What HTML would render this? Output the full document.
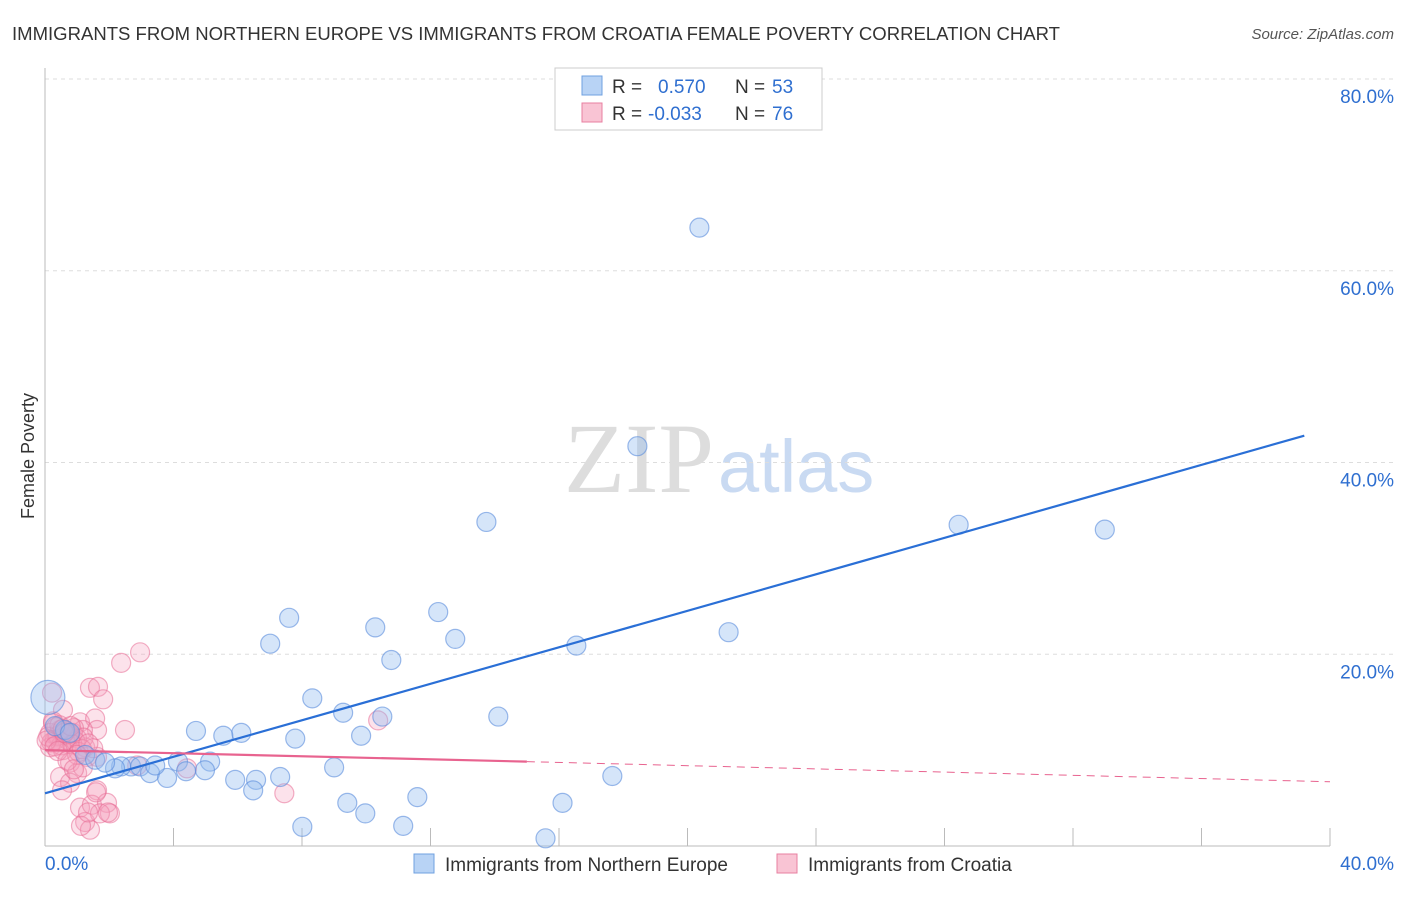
<!DOCTYPE html>
<html><head><meta charset="utf-8"><style>
body{margin:0;background:#fff;font-family:"Liberation Sans",sans-serif}
</style></head><body>
<svg id="c" width="1406" height="892" xmlns="http://www.w3.org/2000/svg" font-family="Liberation Sans, sans-serif">
<text x="12" y="40" font-size="18" fill="#333" textLength="1048" lengthAdjust="spacingAndGlyphs">IMMIGRANTS FROM NORTHERN EUROPE VS IMMIGRANTS FROM CROATIA FEMALE POVERTY CORRELATION CHART</text>
<text x="1394" y="39" font-size="15" fill="#555" font-style="italic" text-anchor="end">Source: ZipAtlas.com</text>
<text x="34" y="456" font-size="18" fill="#333" text-anchor="middle" transform="rotate(-90 34 456)">Female Poverty</text>
<text x="714" y="492" font-size="100" fill="#ddd" text-anchor="end" font-family="Liberation Serif, serif">ZIP</text>
<text x="718" y="492" font-size="74" fill="#c9daf2">atlas</text>
<g id="grid"></g><g id="marks"></g>
<g>
<rect x="555" y="68" width="267" height="62" fill="#fff" stroke="#ccc"/>
<rect x="582" y="76" width="20" height="19" fill="#b8d3f5" stroke="#6fa0e0"/>
<rect x="582" y="103" width="20" height="19" fill="#f9c4d4" stroke="#e87fa0"/>
<text x="612" y="93" font-size="19" fill="#333">R =</text>
<text x="658" y="93" font-size="19" fill="#2f6fd0">0.570</text>
<text x="735" y="93" font-size="19" fill="#333">N =</text>
<text x="772" y="93" font-size="19" fill="#2f6fd0">53</text>
<text x="612" y="120" font-size="19" fill="#333">R =</text>
<text x="648" y="120" font-size="19" fill="#2f6fd0">-0.033</text>
<text x="735" y="120" font-size="19" fill="#333">N =</text>
<text x="772" y="120" font-size="19" fill="#2f6fd0">76</text>
</g>
<g>
<rect x="414" y="854" width="20" height="19" fill="#b8d3f5" stroke="#6fa0e0"/>
<text x="445" y="871" font-size="19" fill="#333">Immigrants from Northern Europe</text>
<rect x="777" y="854" width="20" height="19" fill="#f9c4d4" stroke="#e87fa0"/>
<text x="808" y="871" font-size="19" fill="#333">Immigrants from Croatia</text>
</g>
<text x="45" y="870" font-size="19" fill="#2f6fd0">0.0%</text>
<text x="1394" y="870" font-size="19" fill="#2f6fd0" text-anchor="end">40.0%</text>
</svg>
<script>
const yTicks=[20,40,60,80];
const blueX=[20.37,18.44,13.74,28.44,32.99,7.60,12.24,10.28,7.01,12.77,16.54,21.28,10.78,8.32,9.28,10.50,14.11,4.70,6.11,5.55,7.79,9.84,5.14,4.14,2.68,2.37,2.96,2.18,3.27,3.80,4.39,4.98,5.92,6.57,7.32,6.48,9.00,17.66,9.41,9.97,11.59,8.01,11.15,15.58,16.11,0.09,0.62,0.31,1.25,1.56,1.87,3.43,0.78];
const blueY=[64.5,41.7,33.8,33.5,33.0,23.8,24.4,22.8,21.1,21.6,20.9,22.3,19.4,15.4,13.9,13.5,13.5,12.0,11.8,11.5,11.2,11.5,8.8,8.8,8.3,8.3,8.3,8.1,7.6,7.1,7.8,7.9,6.9,6.9,7.2,5.8,8.2,7.3,4.5,3.4,5.1,2.0,2.1,0.8,4.5,15.5,12.1,12.5,9.5,9.0,8.7,8.4,11.8];
const pinkX=[2.37,2.96,1.40,1.65,1.81,0.22,0.56,0.25,1.09,1.56,1.62,2.49,0.37,0.78,0.16,0.56,1.25,1.31,1.62,0.78,0.47,1.00,1.18,0.78,0.53,1.62,4.42,2.87,1.09,1.46,1.93,2.02,1.25,1.40,1.71,0.87,1.18,0.16,0.47,0.69,10.37,7.45,1.12,1.34,1.96,1.59,0.30,0.40,0.60,0.90,1.00,0.20,0.50,0.70,0.35,0.65,0.95,1.20,1.50,0.10,0.45,0.85,1.05,0.25,0.55,0.75,1.15,1.35,0.05,0.30,0.60,0.80,1.00,0.40,0.70,0.90];
const pinkY=[19.1,20.2,16.5,16.6,15.3,16.0,14.2,12.8,12.9,13.3,12.1,12.1,11.4,11.4,10.3,10.0,10.3,9.3,9.3,8.7,7.2,7.6,8.2,6.6,5.8,5.8,8.1,8.4,4.0,4.3,4.5,3.4,2.5,1.7,3.4,11.8,12.1,11.8,12.1,11.1,13.1,5.5,2.1,3.5,3.5,5.6,11.0,11.5,11.9,12.3,11.2,10.8,10.5,11.6,12.4,12.0,10.9,11.3,10.2,11.4,12.6,10.6,9.8,13.0,12.2,11.7,10.1,10.7,11.0,10.4,11.8,12.5,9.5,9.9,8.9,8.0];
const blueTrend=[[0,5.5],[39.2,42.8]];
const pinkTrend=[[0,10.0],[15,8.8],[40,6.7]];
const X=v=>45+v*32.125, Y=v=>846-v*9.5875;
const NS="http://www.w3.org/2000/svg";
function mk(t,a,p){const e=document.createElementNS(NS,t);for(const k in a)e.setAttribute(k,a[k]);p.appendChild(e);return e;}
const g=document.getElementById('grid'),m=document.getElementById('marks');
yTicks.forEach(t=>{const l=mk('line',{x1:45,x2:1394,y1:Y(t),y2:Y(t),stroke:'#ddd','stroke-dasharray':'4 4'},g);


const tx=mk('text',{x:1394,y:Y(t)+24,'font-size':19,fill:'#2f6fd0','text-anchor':'end'},g);tx.textContent=t.toFixed(1)+'%';

});
mk('line',{x1:45,x2:45,y1:68,y2:846,stroke:'#bbb'},g);
mk('line',{x1:45,x2:1330,y1:846,y2:846,stroke:'#bbb'},g);
for(let i=1;i<=10;i++){mk('line',{x1:X(i*4),x2:X(i*4),y1:828,y2:846,stroke:'#bbb'},g);}
pinkX.forEach((v,i)=>{const c=mk('circle',{cx:X(v),cy:Y(pinkY[i]),r:9.5,fill:'rgba(245,160,190,0.3)',stroke:'rgba(232,110,150,0.55)','stroke-width':1.2},m);

});
blueX.forEach((v,i)=>{const c=mk('circle',{cx:X(v),cy:Y(blueY[i]),r:i==45?17:9.5,fill:'rgba(150,190,240,0.4)',stroke:'rgba(90,140,220,0.6)','stroke-width':1.2},m);

});
const bt=mk('line',{x1:X(blueTrend[0][0]),y1:Y(blueTrend[0][1]),x2:X(blueTrend[1][0]),y2:Y(blueTrend[1][1]),stroke:'#2a6fd6','stroke-width':2.2},m);


const pt=mk('line',{x1:X(pinkTrend[0][0]),y1:Y(pinkTrend[0][1]),x2:X(pinkTrend[1][0]),y2:Y(pinkTrend[1][1]),stroke:'#e8638f','stroke-width':2.2},m);


const pd=mk('line',{x1:X(pinkTrend[1][0]),y1:Y(pinkTrend[1][1]),x2:X(pinkTrend[2][0]),y2:Y(pinkTrend[2][1]),stroke:'#e8638f','stroke-width':1,'stroke-dasharray':'8 6'},m);


</script>
</body></html>
